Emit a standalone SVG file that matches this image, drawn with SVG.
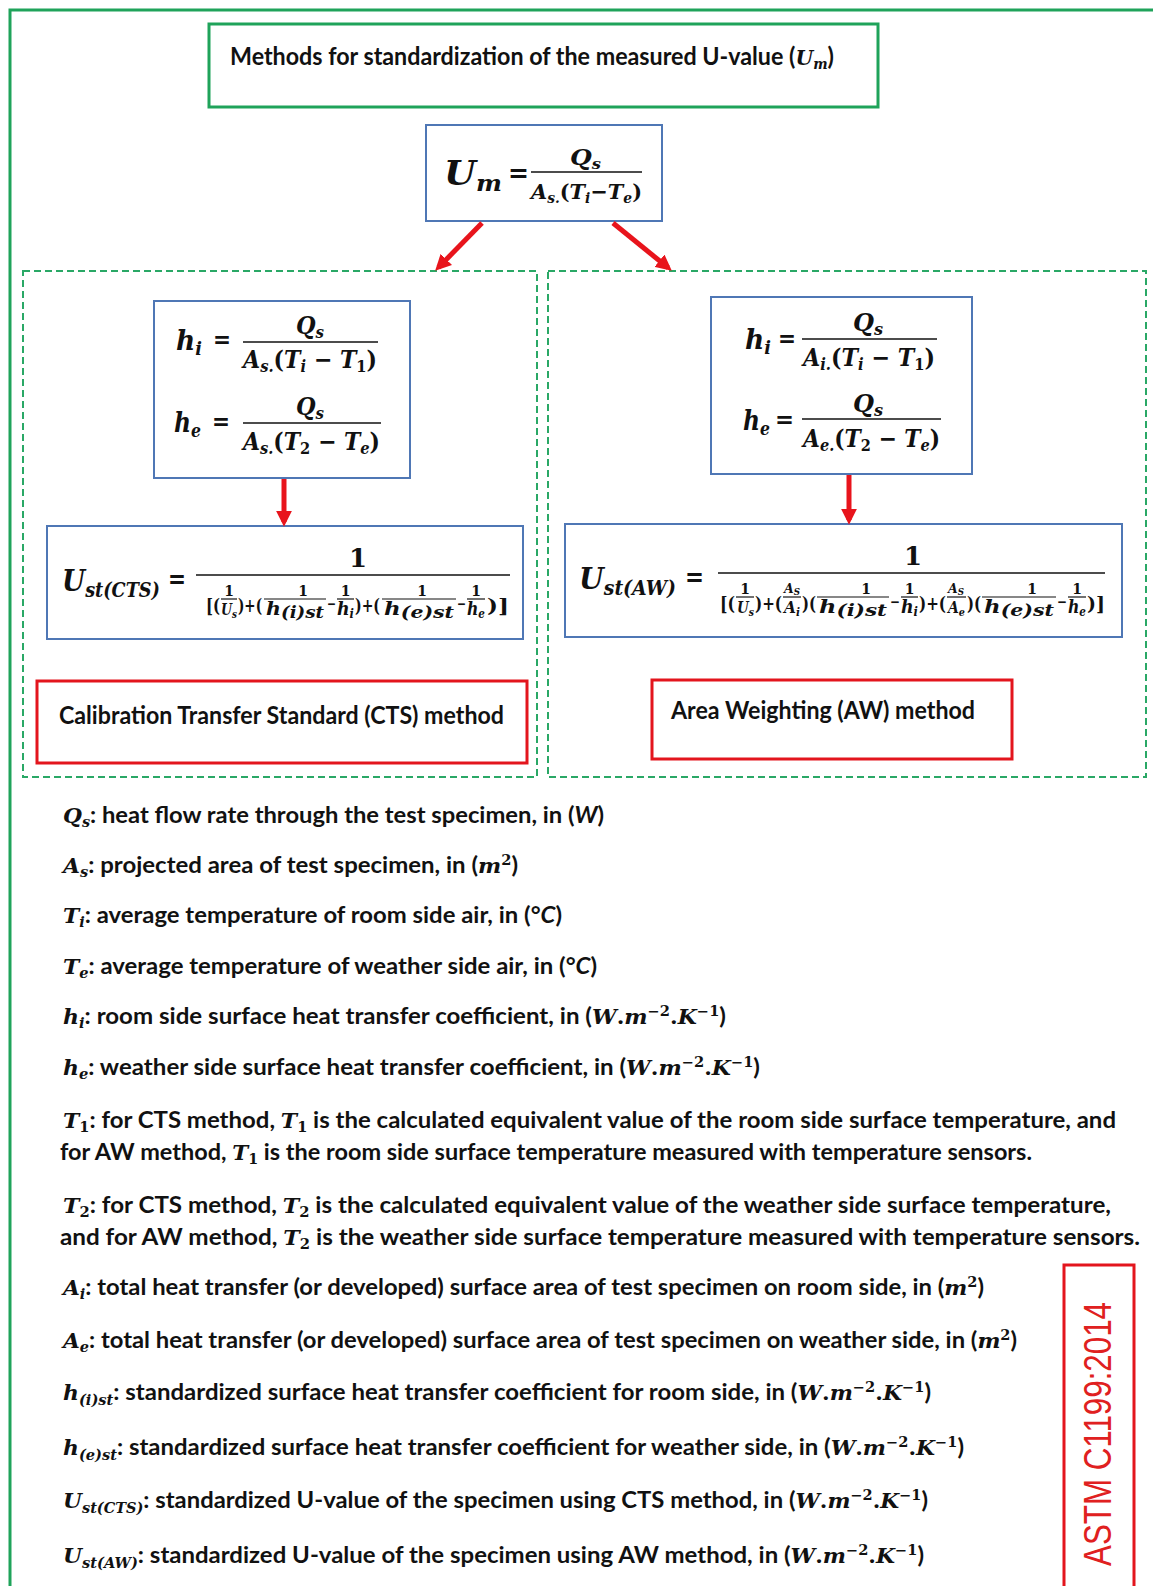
<svg xmlns="http://www.w3.org/2000/svg" width="1153" height="1586" viewBox="0 0 1153 1586">
  <defs>
    <style>
      .frame { fill: none; stroke: #1fa35a; stroke-width: 3; }
      .dash { fill: none; stroke: #2aa866; stroke-width: 2; stroke-dasharray: 7 4; }
      .blue { fill: #ffffff; stroke: #4f77b5; stroke-width: 2; }
      .red { fill: #ffffff; stroke: #e3151d; stroke-width: 3; }
      .hd { font-family: Lato, "Liberation Sans", sans-serif; font-weight: bold; font-size: 24px; fill: #111111; }
      .lg { font-family: Lato, "Liberation Sans", sans-serif; font-weight: bold; font-size: 23px; fill: #111111; }
      .m { font-family: "DejaVu Serif", "Liberation Serif", serif; font-weight: bold; font-style: italic; fill: #111111; }
      .mu { font-family: "DejaVu Serif", "Liberation Serif", serif; font-weight: bold; font-style: normal; fill: #111111; }
      .lg .m, .lg .mu, .hd .m { font-size: 21px; }
      .lg .sb, .hd .sb { font-size: 14px; }
      .it { font-style: italic; }
      .bar { stroke: #111111; stroke-width: 1.6; }
      .sbar { stroke: #111111; stroke-width: 1.2; }
      .arrow { fill: none; stroke: #e8141c; stroke-width: 5; marker-end: url(#ah); }
    </style>
    <marker id="ah" viewBox="0 0 10 10" refX="7" refY="5" markerWidth="3.2" markerHeight="3.2" orient="auto">
      <path d="M0,0 L10,5 L0,10 z" fill="#e8141c"/>
    </marker>
  </defs>

  <rect width="1153" height="1586" fill="#ffffff"/>

  <!-- outer frame, running off the right and bottom edges -->
  <rect class="frame" x="10" y="10" width="1160" height="1600"/>

  <!-- heading -->
  <g id="title">
    <rect class="frame" x="209" y="24" width="669" height="83"/>
    <text class="hd" x="230" y="65" textLength="604" lengthAdjust="spacingAndGlyphs">Methods for standardization of the measured U-value (<tspan class="m">U</tspan><tspan class="m sb" dy="4">m</tspan><tspan dy="-4">)</tspan></text>
  </g>

  <!-- measured U-value -->
  <g id="um">
    <rect class="blue" x="426" y="125" width="236" height="96"/>
    <text class="m" x="444" y="185" font-size="33" textLength="58" lengthAdjust="spacingAndGlyphs">U<tspan font-size="22" dy="6">m</tspan></text>
    <text class="mu" x="508" y="182" font-size="28" textLength="21" lengthAdjust="spacingAndGlyphs">=</text>
    <line class="bar" x1="531" y1="172" x2="642" y2="172"/>
    <text class="m" x="570" y="165" font-size="23" textLength="31" lengthAdjust="spacingAndGlyphs">Q<tspan font-size="15" dy="4">s</tspan></text>
    <text class="m" x="531" y="199" font-size="21" textLength="111" lengthAdjust="spacingAndGlyphs">A<tspan font-size="14" dy="4">s.</tspan><tspan class="mu" dy="-4">(</tspan>T<tspan font-size="14" dy="4">i</tspan><tspan class="mu" dy="-4">−</tspan>T<tspan font-size="14" dy="4">e</tspan><tspan class="mu" dy="-4">)</tspan></text>
  </g>

  <!-- the two method panels -->
  <g id="panel-cts">
    <rect class="dash" x="23" y="271" width="514" height="506"/>
  </g>
  <g id="panel-aw">
    <rect class="dash" x="548" y="271" width="598" height="506"/>
  </g>

  <!-- CTS surface coefficients -->
  <g id="cts-h">
    <rect class="blue" x="154" y="301" width="256" height="177"/>
    <text class="m" x="176" y="350" font-size="27" textLength="26" lengthAdjust="spacingAndGlyphs">h<tspan font-size="18" dy="5">i</tspan></text>
    <text class="mu" x="213" y="348" font-size="24" textLength="18" lengthAdjust="spacingAndGlyphs">=</text>
    <line class="bar" x1="243" y1="342" x2="378" y2="342"/>
    <text class="m" x="296" y="334" font-size="24" textLength="28" lengthAdjust="spacingAndGlyphs">Q<tspan font-size="16" dy="4">s</tspan></text>
    <text class="m" x="243" y="368" font-size="24" textLength="134" lengthAdjust="spacingAndGlyphs">A<tspan font-size="16" dy="4">s.</tspan><tspan class="mu" dy="-4">(</tspan>T<tspan font-size="16" dy="4">i</tspan><tspan class="mu" dy="-4"> − </tspan>T<tspan class="mu" font-size="16" dy="4">1</tspan><tspan class="mu" dy="-4">)</tspan></text>

    <text class="m" x="174" y="432" font-size="27" textLength="27" lengthAdjust="spacingAndGlyphs">h<tspan font-size="18" dy="5">e</tspan></text>
    <text class="mu" x="212" y="430" font-size="24" textLength="18" lengthAdjust="spacingAndGlyphs">=</text>
    <line class="bar" x1="243" y1="423" x2="381" y2="423"/>
    <text class="m" x="296" y="415" font-size="24" textLength="28" lengthAdjust="spacingAndGlyphs">Q<tspan font-size="16" dy="4">s</tspan></text>
    <text class="m" x="243" y="450" font-size="24" textLength="137" lengthAdjust="spacingAndGlyphs">A<tspan font-size="16" dy="4">s.</tspan><tspan class="mu" dy="-4">(</tspan>T<tspan class="mu" font-size="16" dy="4">2</tspan><tspan class="mu" dy="-4"> − </tspan>T<tspan font-size="16" dy="4">e</tspan><tspan class="mu" dy="-4">)</tspan></text>
  </g>

  <!-- AW surface coefficients -->
  <g id="aw-h">
    <rect class="blue" x="711" y="297" width="261" height="177"/>
    <text class="m" x="745" y="349" font-size="27" textLength="26" lengthAdjust="spacingAndGlyphs">h<tspan font-size="18" dy="5">i</tspan></text>
    <text class="mu" x="778" y="347" font-size="24" textLength="18" lengthAdjust="spacingAndGlyphs">=</text>
    <line class="bar" x1="802" y1="339" x2="937" y2="339"/>
    <text class="m" x="853" y="331" font-size="24" textLength="30" lengthAdjust="spacingAndGlyphs">Q<tspan font-size="16" dy="4">s</tspan></text>
    <text class="m" x="803" y="366" font-size="24" textLength="132" lengthAdjust="spacingAndGlyphs">A<tspan font-size="16" dy="4">i.</tspan><tspan class="mu" dy="-4">(</tspan>T<tspan font-size="16" dy="4">i</tspan><tspan class="mu" dy="-4"> − </tspan>T<tspan class="mu" font-size="16" dy="4">1</tspan><tspan class="mu" dy="-4">)</tspan></text>

    <text class="m" x="743" y="430" font-size="27" textLength="27" lengthAdjust="spacingAndGlyphs">h<tspan font-size="18" dy="5">e</tspan></text>
    <text class="mu" x="775" y="428" font-size="24" textLength="19" lengthAdjust="spacingAndGlyphs">=</text>
    <line class="bar" x1="802" y1="419" x2="941" y2="419"/>
    <text class="m" x="853" y="412" font-size="24" textLength="30" lengthAdjust="spacingAndGlyphs">Q<tspan font-size="16" dy="4">s</tspan></text>
    <text class="m" x="803" y="447" font-size="24" textLength="137" lengthAdjust="spacingAndGlyphs">A<tspan font-size="16" dy="4">e.</tspan><tspan class="mu" dy="-4">(</tspan>T<tspan class="mu" font-size="16" dy="4">2</tspan><tspan class="mu" dy="-4"> − </tspan>T<tspan font-size="16" dy="4">e</tspan><tspan class="mu" dy="-4">)</tspan></text>
  </g>

  <!-- CTS standardized U-value -->
  <g id="cts-u">
    <rect class="blue" x="47" y="526" width="476" height="113"/>
    <text class="m" x="62" y="591" font-size="30" textLength="98" lengthAdjust="spacingAndGlyphs">U<tspan font-size="20" dy="6">st(CTS)</tspan></text>
    <text class="mu" x="168" y="588" font-size="26" textLength="18" lengthAdjust="spacingAndGlyphs">=</text>
    <line class="bar" x1="196" y1="575" x2="510" y2="575"/>
    <text class="mu" x="358" y="567" font-size="26" text-anchor="middle">1</text>
    <!-- denominator -->
    <text class="mu" x="206" y="612" font-size="19" textLength="14" lengthAdjust="spacingAndGlyphs">[(</text>
    <line class="sbar" x1="221" y1="599" x2="237" y2="599"/>
    <text class="mu" x="229" y="596" font-size="14" text-anchor="middle">1</text>
    <text class="m" x="221" y="615" font-size="16" textLength="16" lengthAdjust="spacingAndGlyphs">U<tspan font-size="11" dy="3">s</tspan></text>
    <text class="mu" x="238" y="612" font-size="19" textLength="24" lengthAdjust="spacingAndGlyphs">)+(</text>
    <line class="sbar" x1="264" y1="599" x2="326" y2="599"/>
    <text class="mu" x="303" y="596" font-size="14" text-anchor="middle">1</text>
    <text class="m" x="266" y="615" font-size="18" textLength="58" lengthAdjust="spacingAndGlyphs">h<tspan font-size="16" dy="3">(i)st</tspan></text>
    <text class="mu" x="327" y="609" font-size="15" textLength="9" lengthAdjust="spacingAndGlyphs">−</text>
    <line class="sbar" x1="337" y1="599" x2="354" y2="599"/>
    <text class="mu" x="345.5" y="596" font-size="14" text-anchor="middle">1</text>
    <text class="m" x="337" y="615" font-size="18" textLength="17" lengthAdjust="spacingAndGlyphs">h<tspan font-size="12" dy="3">i</tspan></text>
    <text class="mu" x="355" y="612" font-size="19" textLength="25" lengthAdjust="spacingAndGlyphs">)+(</text>
    <line class="sbar" x1="382" y1="599" x2="456" y2="599"/>
    <text class="mu" x="422" y="596" font-size="14" text-anchor="middle">1</text>
    <text class="m" x="384" y="615" font-size="18" textLength="70" lengthAdjust="spacingAndGlyphs">h<tspan font-size="16" dy="3">(e)st</tspan></text>
    <text class="mu" x="457" y="609" font-size="15" textLength="9" lengthAdjust="spacingAndGlyphs">−</text>
    <line class="sbar" x1="467" y1="599" x2="485" y2="599"/>
    <text class="mu" x="476" y="596" font-size="14" text-anchor="middle">1</text>
    <text class="m" x="467" y="615" font-size="18" textLength="18" lengthAdjust="spacingAndGlyphs">h<tspan font-size="12" dy="3">e</tspan></text>
    <text class="mu" x="487" y="612" font-size="19" textLength="22" lengthAdjust="spacingAndGlyphs">)]</text>
  </g>

  <!-- AW standardized U-value -->
  <g id="aw-u">
    <rect class="blue" x="565" y="524" width="557" height="113"/>
    <text class="m" x="579" y="589" font-size="30" textLength="97" lengthAdjust="spacingAndGlyphs">U<tspan font-size="20" dy="6">st(AW)</tspan></text>
    <text class="mu" x="685" y="586" font-size="26" textLength="19" lengthAdjust="spacingAndGlyphs">=</text>
    <line class="bar" x1="718" y1="573" x2="1105" y2="573"/>
    <text class="mu" x="913" y="565" font-size="26" text-anchor="middle">1</text>
    <!-- denominator -->
    <text class="mu" x="720" y="610" font-size="19" textLength="15" lengthAdjust="spacingAndGlyphs">[(</text>
    <line class="sbar" x1="736" y1="597" x2="754" y2="597"/>
    <text class="mu" x="745" y="594" font-size="14" text-anchor="middle">1</text>
    <text class="m" x="737" y="613" font-size="16" textLength="17" lengthAdjust="spacingAndGlyphs">U<tspan font-size="11" dy="3">s</tspan></text>
    <text class="mu" x="755" y="610" font-size="19" textLength="27" lengthAdjust="spacingAndGlyphs">)+(</text>
    <line class="sbar" x1="783" y1="597" x2="801" y2="597"/>
    <text class="m" x="784" y="593" font-size="13" textLength="16" lengthAdjust="spacingAndGlyphs">A<tspan font-size="9" dy="2">S</tspan></text>
    <text class="m" x="784" y="613" font-size="16" textLength="16" lengthAdjust="spacingAndGlyphs">A<tspan font-size="11" dy="3">i</tspan></text>
    <text class="mu" x="802" y="610" font-size="19" textLength="14" lengthAdjust="spacingAndGlyphs">)(</text>
    <line class="sbar" x1="817" y1="597" x2="889" y2="597"/>
    <text class="mu" x="866" y="594" font-size="14" text-anchor="middle">1</text>
    <text class="m" x="819" y="613" font-size="19" textLength="68" lengthAdjust="spacingAndGlyphs">h<tspan font-size="17" dy="3">(i)st</tspan></text>
    <text class="mu" x="890" y="607" font-size="15" textLength="10" lengthAdjust="spacingAndGlyphs">−</text>
    <line class="sbar" x1="901" y1="597" x2="918" y2="597"/>
    <text class="mu" x="909.5" y="594" font-size="14" text-anchor="middle">1</text>
    <text class="m" x="901" y="613" font-size="18" textLength="17" lengthAdjust="spacingAndGlyphs">h<tspan font-size="12" dy="3">i</tspan></text>
    <text class="mu" x="919" y="610" font-size="19" textLength="27" lengthAdjust="spacingAndGlyphs">)+(</text>
    <line class="sbar" x1="947" y1="597" x2="966" y2="597"/>
    <text class="m" x="948" y="593" font-size="13" textLength="16" lengthAdjust="spacingAndGlyphs">A<tspan font-size="9" dy="2">S</tspan></text>
    <text class="m" x="948" y="613" font-size="16" textLength="17" lengthAdjust="spacingAndGlyphs">A<tspan font-size="11" dy="3">e</tspan></text>
    <text class="mu" x="967" y="610" font-size="19" textLength="14" lengthAdjust="spacingAndGlyphs">)(</text>
    <line class="sbar" x1="982" y1="597" x2="1056" y2="597"/>
    <text class="mu" x="1032" y="594" font-size="14" text-anchor="middle">1</text>
    <text class="m" x="984" y="613" font-size="19" textLength="70" lengthAdjust="spacingAndGlyphs">h<tspan font-size="17" dy="3">(e)st</tspan></text>
    <text class="mu" x="1057" y="607" font-size="15" textLength="10" lengthAdjust="spacingAndGlyphs">−</text>
    <line class="sbar" x1="1068" y1="597" x2="1086" y2="597"/>
    <text class="mu" x="1077" y="594" font-size="14" text-anchor="middle">1</text>
    <text class="m" x="1068" y="613" font-size="18" textLength="18" lengthAdjust="spacingAndGlyphs">h<tspan font-size="12" dy="3">e</tspan></text>
    <text class="mu" x="1087" y="610" font-size="19" textLength="18" lengthAdjust="spacingAndGlyphs">)]</text>
  </g>

  <!-- method labels -->
  <g id="label-cts">
    <rect class="red" x="37" y="681" width="490" height="82"/>
    <text class="hd" x="59" y="724" textLength="445" lengthAdjust="spacingAndGlyphs">Calibration Transfer Standard (CTS) method</text>
  </g>
  <g id="label-aw">
    <rect class="red" x="652" y="680" width="360" height="79"/>
    <text class="hd" x="671" y="719" textLength="304" lengthAdjust="spacingAndGlyphs">Area Weighting (AW) method</text>
  </g>

  <!-- connectors -->
  <g id="connectors">
    <line class="arrow" x1="482" y1="223" x2="438.5" y2="267.4"/>
    <line class="arrow" x1="613" y1="223" x2="668.1" y2="267.8"/>
    <line class="arrow" x1="284" y1="479" x2="284" y2="522"/>
    <line class="arrow" x1="849" y1="475" x2="849" y2="520"/>
  </g>

  <!-- symbol definitions -->
  <g id="legend">
    <text class="lg" x="63" y="823" textLength="541" lengthAdjust="spacingAndGlyphs"><tspan class="m">Q</tspan><tspan class="m sb" dy="4">s</tspan><tspan dy="-4">: heat flow rate through the test specimen, in (</tspan><tspan class="it">W</tspan>)</text>
    <text class="lg" x="63" y="873" textLength="455" lengthAdjust="spacingAndGlyphs"><tspan class="m">A</tspan><tspan class="m sb" dy="4">s</tspan><tspan dy="-4">: projected area of test specimen, in (</tspan><tspan class="m">m</tspan><tspan class="mu sb" dy="-8">2</tspan><tspan dy="8">)</tspan></text>
    <text class="lg" x="63" y="923" textLength="499" lengthAdjust="spacingAndGlyphs"><tspan class="m">T</tspan><tspan class="m sb" dy="4">i</tspan><tspan dy="-4">: average temperature of room side air, in (°</tspan><tspan class="it">C</tspan>)</text>
    <text class="lg" x="63" y="974" textLength="534" lengthAdjust="spacingAndGlyphs"><tspan class="m">T</tspan><tspan class="m sb" dy="4">e</tspan><tspan dy="-4">: average temperature of weather side air, in (°</tspan><tspan class="it">C</tspan>)</text>
    <text class="lg" x="63" y="1024" textLength="663" lengthAdjust="spacingAndGlyphs"><tspan class="m">h</tspan><tspan class="m sb" dy="4">i</tspan><tspan dy="-4">: room side surface heat transfer coefficient, in (</tspan><tspan class="m">W</tspan><tspan class="mu">.</tspan><tspan class="m">m</tspan><tspan class="mu sb" dy="-8">−2</tspan><tspan class="mu" dy="8">.</tspan><tspan class="m">K</tspan><tspan class="mu sb" dy="-8">−1</tspan><tspan dy="8">)</tspan></text>
    <text class="lg" x="63" y="1075" textLength="697" lengthAdjust="spacingAndGlyphs"><tspan class="m">h</tspan><tspan class="m sb" dy="4">e</tspan><tspan dy="-4">: weather side surface heat transfer coefficient, in (</tspan><tspan class="m">W</tspan><tspan class="mu">.</tspan><tspan class="m">m</tspan><tspan class="mu sb" dy="-8">−2</tspan><tspan class="mu" dy="8">.</tspan><tspan class="m">K</tspan><tspan class="mu sb" dy="-8">−1</tspan><tspan dy="8">)</tspan></text>
    <text class="lg" x="63" y="1128" textLength="1053" lengthAdjust="spacingAndGlyphs"><tspan class="m">T</tspan><tspan class="mu sb" dy="4">1</tspan><tspan dy="-4">: for CTS method, </tspan><tspan class="m">T</tspan><tspan class="mu sb" dy="4">1</tspan><tspan dy="-4"> is the calculated equivalent value of the room side surface temperature, and</tspan></text>
    <text class="lg" x="60" y="1160" textLength="972" lengthAdjust="spacingAndGlyphs">for AW method, <tspan class="m">T</tspan><tspan class="mu sb" dy="4">1</tspan><tspan dy="-4"> is the room side surface temperature measured with temperature sensors.</tspan></text>
    <text class="lg" x="63" y="1213" textLength="1048" lengthAdjust="spacingAndGlyphs"><tspan class="m">T</tspan><tspan class="mu sb" dy="4">2</tspan><tspan dy="-4">:  for CTS method, </tspan><tspan class="m">T</tspan><tspan class="mu sb" dy="4">2</tspan><tspan dy="-4"> is the calculated equivalent value of the weather side surface temperature,</tspan></text>
    <text class="lg" x="60" y="1245" textLength="1080" lengthAdjust="spacingAndGlyphs">and for AW method, <tspan class="m">T</tspan><tspan class="mu sb" dy="4">2</tspan><tspan dy="-4"> is the weather side surface temperature measured with temperature sensors.</tspan></text>
    <text class="lg" x="63" y="1295" textLength="921" lengthAdjust="spacingAndGlyphs"><tspan class="m">A</tspan><tspan class="m sb" dy="4">i</tspan><tspan dy="-4">: total heat transfer (or developed) surface area of test specimen on room side, in (</tspan><tspan class="m">m</tspan><tspan class="mu sb" dy="-8">2</tspan><tspan dy="8">)</tspan></text>
    <text class="lg" x="63" y="1348" textLength="954" lengthAdjust="spacingAndGlyphs"><tspan class="m">A</tspan><tspan class="m sb" dy="4">e</tspan><tspan dy="-4">: total heat transfer (or developed) surface area of test specimen on weather side, in (</tspan><tspan class="m">m</tspan><tspan class="mu sb" dy="-8">2</tspan><tspan dy="8">)</tspan></text>
    <text class="lg" x="63" y="1400" textLength="868" lengthAdjust="spacingAndGlyphs"><tspan class="m">h</tspan><tspan class="m sb" dy="5">(i)st</tspan><tspan dy="-5">: standardized surface heat transfer coefficient for room side, in (</tspan><tspan class="m">W</tspan><tspan class="mu">.</tspan><tspan class="m">m</tspan><tspan class="mu sb" dy="-8">−2</tspan><tspan class="mu" dy="8">.</tspan><tspan class="m">K</tspan><tspan class="mu sb" dy="-8">−1</tspan><tspan dy="8">)</tspan></text>
    <text class="lg" x="63" y="1455" textLength="901" lengthAdjust="spacingAndGlyphs"><tspan class="m">h</tspan><tspan class="m sb" dy="5">(e)st</tspan><tspan dy="-5">: standardized surface heat transfer coefficient for weather side, in (</tspan><tspan class="m">W</tspan><tspan class="mu">.</tspan><tspan class="m">m</tspan><tspan class="mu sb" dy="-8">−2</tspan><tspan class="mu" dy="8">.</tspan><tspan class="m">K</tspan><tspan class="mu sb" dy="-8">−1</tspan><tspan dy="8">)</tspan></text>
    <text class="lg" x="63" y="1508" textLength="865" lengthAdjust="spacingAndGlyphs"><tspan class="m">U</tspan><tspan class="m sb" dy="5">st(CTS)</tspan><tspan dy="-5">: standardized U-value of the specimen using CTS method, in (</tspan><tspan class="m">W</tspan><tspan class="mu">.</tspan><tspan class="m">m</tspan><tspan class="mu sb" dy="-8">−2</tspan><tspan class="mu" dy="8">.</tspan><tspan class="m">K</tspan><tspan class="mu sb" dy="-8">−1</tspan><tspan dy="8">)</tspan></text>
    <text class="lg" x="63" y="1563" textLength="861" lengthAdjust="spacingAndGlyphs"><tspan class="m">U</tspan><tspan class="m sb" dy="5">st(AW)</tspan><tspan dy="-5">: standardized U-value of the specimen using AW method, in (</tspan><tspan class="m">W</tspan><tspan class="mu">.</tspan><tspan class="m">m</tspan><tspan class="mu sb" dy="-8">−2</tspan><tspan class="mu" dy="8">.</tspan><tspan class="m">K</tspan><tspan class="mu sb" dy="-8">−1</tspan><tspan dy="8">)</tspan></text>
  </g>

  <!-- standard reference tag -->
  <g id="standard">
    <rect class="red" x="1064" y="1265" width="70" height="340"/>
    <text transform="translate(1111,1566) rotate(-90)" x="0" y="0" font-family="'Liberation Sans', Arial, sans-serif" font-size="38" fill="#e02020" textLength="264" lengthAdjust="spacingAndGlyphs">ASTM C1199:2014</text>
  </g>
</svg>
